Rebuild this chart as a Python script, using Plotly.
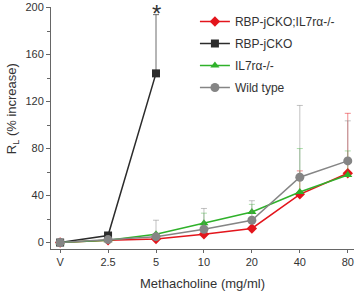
import plotly.graph_objects as go

categories = ["V", "2.5", "5", "10", "20", "40", "80"]
x_pos = [0, 1, 2, 3, 4, 5, 6]

red_name = "RBP-jCKO;IL7rα-/-"
red_vals = [0, 2, 3, 7, 12, 41, 59]
red_err_top = [0, 2, 3, 7, 12, 61, 110]

black_name = "RBP-jCKO"
black_x = [0, 1, 2]
black_vals = [0, 6, 144]
black_err_top = [0, 6, 194]

green_name = "IL7rα-/-"
green_vals = [0, 2, 7, 16.5, 26, 43, 57.5]
green_err_top = [0, 2, 7, 25, 32.5, 80, 78]

gray_name = "Wild type"
gray_vals = [0, 2.5, 5, 11.3, 19, 55.6, 69.5]
gray_err_top = [0, 2.5, 19, 29, 35.6, 116.7, 103.6]

y_ticks = [0, 40, 80, 120, 160, 200]

def err(vals, tops):
    return [t - v for v, t in zip(vals, tops)]

fig = go.Figure()

series = [
    (red_name, x_pos, red_vals, red_err_top, "#e3151c", "rgba(227,21,28,0.5)", "diamond", 8),
    (black_name, black_x, black_vals, black_err_top, "#2b2b2b", "rgba(60,60,60,0.75)", "square", 8),
    (green_name, x_pos, green_vals, green_err_top, "#2fb12a", "rgba(47,177,42,0.4)", "triangle-up", 8),
    (gray_name, x_pos, gray_vals, gray_err_top, "#858585", "rgba(133,133,133,0.5)", "circle", 9),
]

for i, (name, xs, vals, tops, col, ecol, sym, size) in enumerate(series):
    fig.add_trace(go.Scatter(
        x=xs, y=vals, name=name, mode="lines+markers",
        line=dict(color=col, width=1.5),
        marker=dict(symbol=sym, size=size, color=col),
        error_y=dict(type="data", symmetric=False, array=err(vals, tops),
                     arrayminus=[0] * len(vals), color=ecol, thickness=1, width=3),
        legendgroup="g%d" % i,
    ))

fig.add_annotation(x=2, y=1 + 7 / 242, xref="x", yref="paper", text="*", showarrow=False,
                   font=dict(size=24, color="#333333", family="Liberation Sans"),
                   yanchor="top", yshift=2)

fig.add_annotation(x=-51 / 303, y=0.58, xref="paper", yref="paper",
                   text="R<sub>L</sub> (% increase)", textangle=-90, showarrow=False,
                   font=dict(size=13, color="#333333", family="Liberation Sans"),
                   xanchor="left", yanchor="middle", xshift=2)

fig.update_layout(
    width=356, height=291,
    margin=dict(l=51, r=2, t=7, b=42),
    paper_bgcolor="white", plot_bgcolor="white",
    font=dict(family="Liberation Sans", color="#333333", size=11),
    showlegend=True,
    legend=dict(x=0.475, y=1.0, xanchor="left", yanchor="top",
                font=dict(size=12, color="#333333"),
                traceorder="grouped", tracegroupgap=3,
                bgcolor="rgba(255,255,255,0)"),
    xaxis=dict(
        range=[-0.19, 6.13], tickvals=x_pos, ticktext=categories,
        showline=True, linecolor="#666666", linewidth=1,
        ticks="outside", ticklen=3, tickcolor="#666666",
        showgrid=False, zeroline=False,
        tickfont=dict(size=11, color="#333333"),
        title=dict(text="Methacholine (mg/ml)", font=dict(size=13, color="#333333"), standoff=12),
    ),
    yaxis=dict(
        range=[-5.5, 200.5], tickvals=y_ticks,
        showline=True, linecolor="#666666", linewidth=1,
        ticks="outside", ticklen=4, tickcolor="#666666",
        minor=dict(dtick=20, tick0=0, ticks="outside", ticklen=3, tickcolor="#666666", showgrid=False),
        showgrid=False, zeroline=False,
        tickfont=dict(size=11, color="#333333"),
    ),
)

fig.write_html("out.html")
